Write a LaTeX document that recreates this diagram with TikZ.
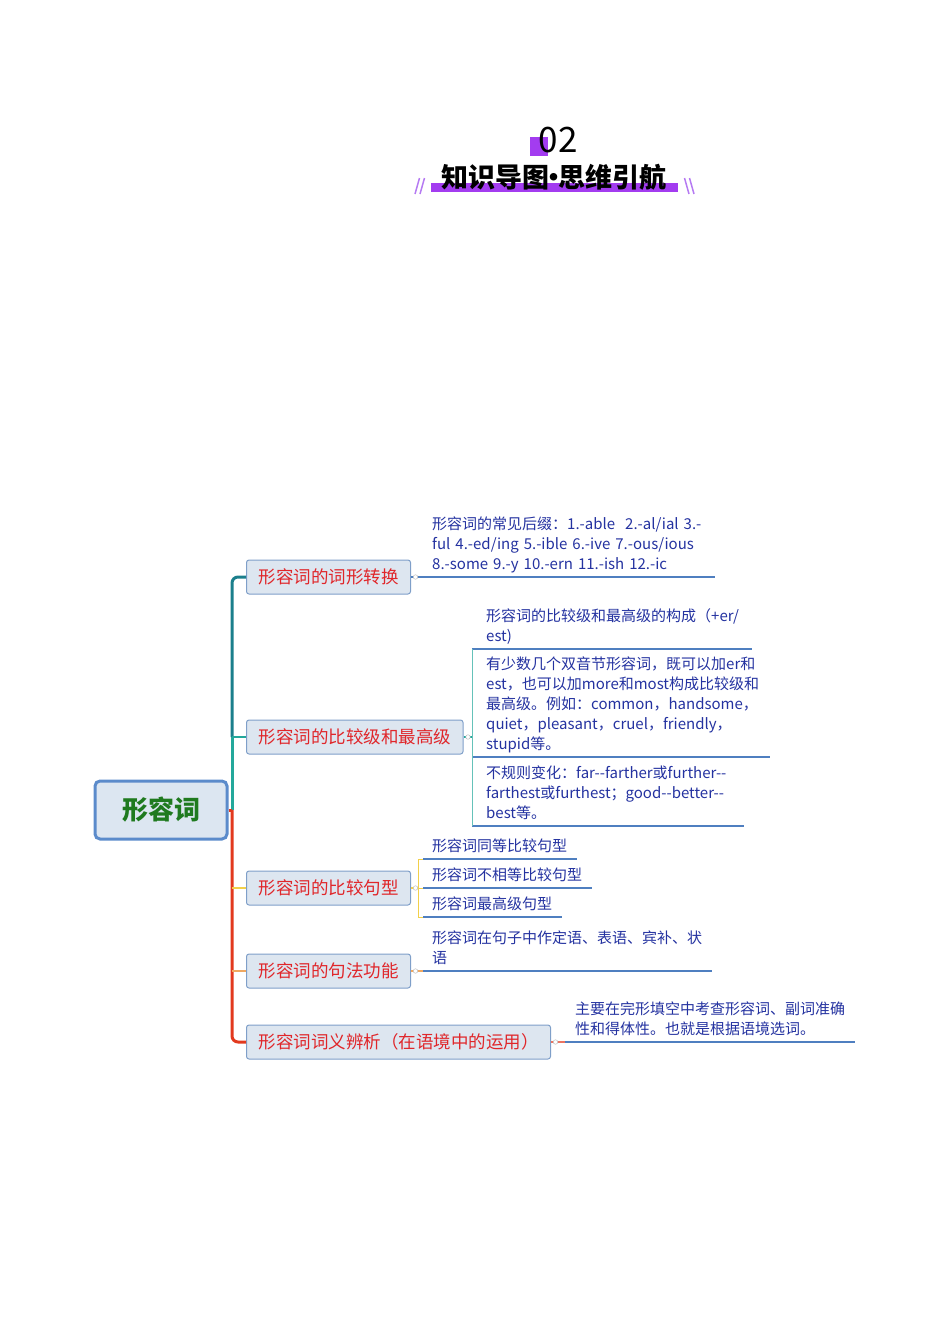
\documentclass[tikz,border=0pt]{standalone}
\usepackage{fontspec}
\setmainfont{Noto Sans CJK SC}
\usetikzlibrary{positioning}
\definecolor{titlepurple}{HTML}{A33CF0}
\definecolor{slashpurple}{HTML}{B57AF2}
\definecolor{rootfill}{HTML}{DCE6F1}
\definecolor{rootborder}{HTML}{5B8BCB}
\definecolor{rootgreen}{HTML}{1F7A1F}
\definecolor{branchfill}{HTML}{DDE6F0}
\definecolor{branchborder}{HTML}{7F9FC9}
\definecolor{branchred}{HTML}{E0262A}
\definecolor{leafblue}{HTML}{2432A0}
\definecolor{underblue}{HTML}{4F7FC0}
\definecolor{trunkteal}{HTML}{1B7F8C}
\definecolor{trunkgreen}{HTML}{23A89B}
\definecolor{trunkred}{HTML}{E2391E}
\definecolor{stubyellow}{HTML}{F2D04A}
\definecolor{stuborange}{HTML}{F0A860}
\begin{document}
\begin{tikzpicture}
[x=1pt,y=-1pt,
  rootdecorate/.style={shape=rectangle,rounded corners=5pt,draw=rootborder,line width=3pt,
    fill=rootfill,minimum width=132pt,minimum height=58pt,text=rootgreen,
    font=\fontsize{26}{30}\selectfont\bfseries},%
  branchdecorate/.style={shape=rectangle,rounded corners=2.5pt,draw=branchborder,line width=1pt,
    fill=branchfill,minimum height=34pt,inner xsep=12pt,text=branchred,
    font=\fontsize{17.5}{20}\selectfont,anchor=west},%
  leafdecorate/.style={inner sep=0pt,text width=340pt,align=left,text=leafblue,
    font=\fontsize{15}{20}\selectfont,execute at end node=\strut},%
  knobdecorate/.style={shape=circle,draw=gray!50,fill=white,inner sep=0pt,
    minimum size=4.5pt,line width=0.5pt},%
  underline/.style={-,draw=underblue,line width=1.3pt},%
  stubline/.style={-,line width=1.2pt}]
\useasboundingbox (0,0) rectangle (950,1344);
%%
%% heading
\fill[titlepurple] (530,137) rectangle (548,156);
\node (number) at (558,140) {\fontsize{35}{35}\selectfont 02};
\fill[titlepurple] (431,183) rectangle (678,192);
\node (heading) at (554,177)
  {\fontsize{27}{27}\selectfont\bfseries 知识导图\kern-0.32em•\kern-0.32em 思维引航};
\foreach \x in {0,5} {
  \draw[slashpurple,line width=1.5pt] (415+\x,194) -- (419.5+\x,178);
  \draw[slashpurple,line width=1.5pt] (689+\x,194) -- (684.5+\x,178);
}
%%
%% root and branches
\node (root) at (161,810) [rootdecorate] {形容词};
\foreach \nodename/\y/\nodetext in {b1/577/形容词的词形转换, b2/737/形容词的比较级和最高级,
  b3/888/形容词的比较句型, b4/971/形容词的句法功能, b5/1042/形容词词义辨析（在语境中的运用）} {
  \node (\nodename) at (246,\y) [branchdecorate] {\nodetext};
}
%% trunk
\coordinate (trunk) at (232,810);
\draw[trunkteal,line width=3pt,rounded corners=6pt] (b1.west) -| (b2.west -| trunk);
\draw[trunkgreen,line width=3pt] (b2.west -| trunk) -- (trunk);
\draw[trunkgreen,stubline] (b2.west) -- (b2.west -| trunk);
\draw[trunkred,line width=3pt,rounded corners=6pt] (trunk) |- (b5.west);
\draw[trunkred,line width=3pt] (root.east) -- (trunk);
\draw[stubyellow,stubline] (b3.west) -- (b3.west -| trunk);
\draw[stuborange,stubline] (b4.west) -- (b4.west -| trunk);
%%
%% leaves: underline ends
\foreach \nodename/\x/\y in {u1s/418/577, u1e/715/577, u2a/472/649, u2ae/752/649,
  u2b/472/757, u2be/770/757, u2c/472/826, u2ce/744/826, u3a/423/859, u3ae/577/859,
  u3b/423/888, u3be/592/888, u3c/423/917, u3ce/562/917, brk3/418/888,
  u4s/423/971, u4e/712/971, u5s/565/1042, u5e/855/1042} {
  \coordinate (\nodename) at (\x,\y);
}
%% leaves: texts
\node (l1) [leafdecorate,above right=1.5pt and 14pt of u1s]
  {形容词的常见后缀：1.-able\ \ 2.-al/ial 3.-\\ful 4.-ed/ing 5.-ible 6.-ive 7.-ous/ious\\8.-some 9.-y 10.-ern 11.-ish 12.-ic};
\node (l2a) [leafdecorate,above right=1.5pt and 14pt of u2a]
  {形容词的比较级和最高级的构成（+er/\\est)};
\node (l2b) [leafdecorate,above right=1.5pt and 14pt of u2b]
  {有少数几个双音节形容词，既可以加er和\\est，也可以加more和most构成比较级和\\最高级。例如：common，handsome，\\quiet，pleasant，cruel，friendly，\\stupid等。};
\node (l2c) [leafdecorate,above right=1.5pt and 14pt of u2c]
  {不规则变化：far-{}-farther或further-{}-\\farthest或furthest；good-{}-better-{}-\\best等。};
\node (l3a) [leafdecorate,above right=1.5pt and 9pt of u3a] {形容词同等比较句型};
\node (l3b) [leafdecorate,above right=1.5pt and 9pt of u3b] {形容词不相等比较句型};
\node (l3c) [leafdecorate,above right=1.5pt and 9pt of u3c] {形容词最高级句型};
\node (l4) [leafdecorate,above right=1.5pt and 9pt of u4s]
  {形容词在句子中作定语、表语、宾补、状\\语};
\node (l5) [leafdecorate,above right=1.5pt and 10pt of u5s]
  {主要在完形填空中考查形容词、副词准确\\性和得体性。也就是根据语境选词。};
%% leaves: lines
\path
\foreach \startnode/\endnode in {u1s/u1e, u2a/u2ae, u2b/u2be, u2c/u2ce, u3a/u3ae,
  u3b/u3be, u3c/u3ce, u4s/u4e, u5s/u5e} {
  (\startnode) edge[underline] (\endnode)
};
\draw[underblue,stubline] (b1.east) -- (u1s);
\draw[trunkgreen,stubline] (b2.east) -- (b2.east -| u2a);
\draw[trunkgreen!70,line width=0.8pt] (u2a) -- (u2c);
\draw[stubyellow,stubline] (b3.east) -- (brk3);
\draw[stubyellow,line width=0.8pt] (u3a -| brk3) -- (u3c -| brk3);
\foreach \startnode in {u3a, u3b, u3c} {
  \draw[stubyellow,line width=0.8pt] (\startnode -| brk3) -- (\startnode);
}
\draw[stuborange,stubline] (b4.east) -- (u4s);
\draw[trunkred!70,stubline] (b5.east) -- (u5s);
%% knobs
\foreach \nodename in {b1, b2, b3, b4, b5} {
  \node[knobdecorate] at ([xshift=4.5pt]\nodename.east) {};
}
\end{tikzpicture}
\end{document}
